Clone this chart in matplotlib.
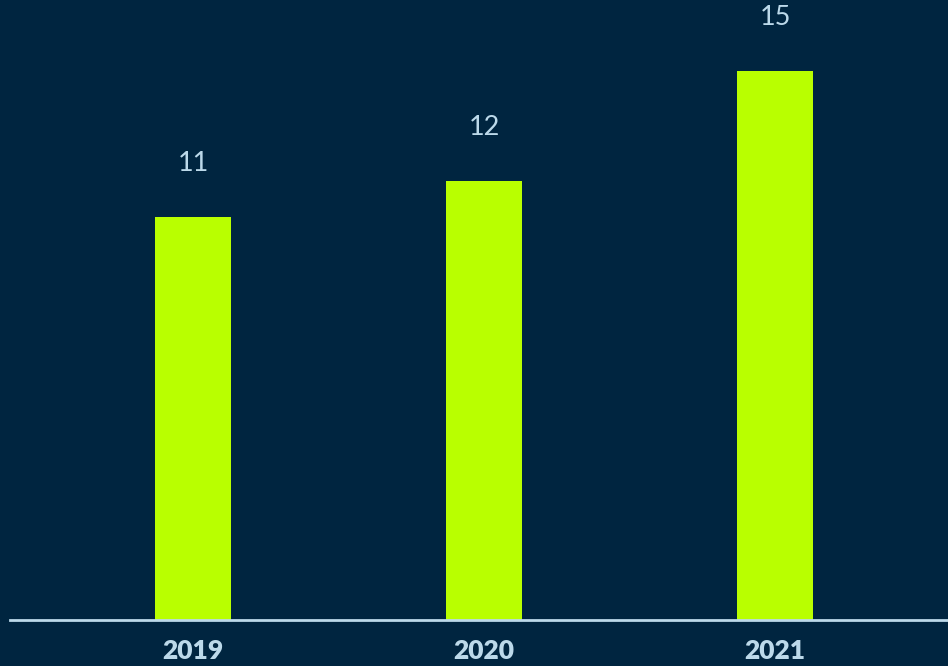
import matplotlib
matplotlib.use("Agg")
import matplotlib.pyplot as plt

years = ["2019", "2020", "2021"]
values = [11, 12, 15]

BG = "#002540"
BAR = "#b9ff00"
TEXT = "#bcd9ea"

fig = plt.figure(figsize=(9.48, 6.66), dpi=100, facecolor=BG)
ax = fig.add_axes([10 / 948, 46 / 666, 938 / 948, 620 / 666])
ax.set_facecolor(BG)

x = list(range(len(years)))
ax.bar(x, values, width=0.26, color=BAR, zorder=2)

ax.set_xlim(-0.629, 2.594)
ax.set_ylim(0, 16.93)

for xi, v in zip(x, values):
    ax.annotate(str(v), (xi, v), xytext=(0, 38.5), textcoords="offset points",
                ha="center", va="center", color=TEXT, fontsize=19.5,
                family="Lato", fontweight="normal", annotation_clip=False)

for side in ["top", "right", "left"]:
    ax.spines[side].set_visible(False)
ax.spines["bottom"].set_color(TEXT)
ax.spines["bottom"].set_linewidth(2)
ax.spines["bottom"].set_zorder(3)

ax.set_yticks([])
ax.set_xticks(x)
ax.set_xticklabels(years, color=TEXT, fontsize=19, family="Lato", fontweight="heavy")
ax.tick_params(axis="x", length=0, pad=14)

fig.savefig("out.png", dpi=100, facecolor=BG)
